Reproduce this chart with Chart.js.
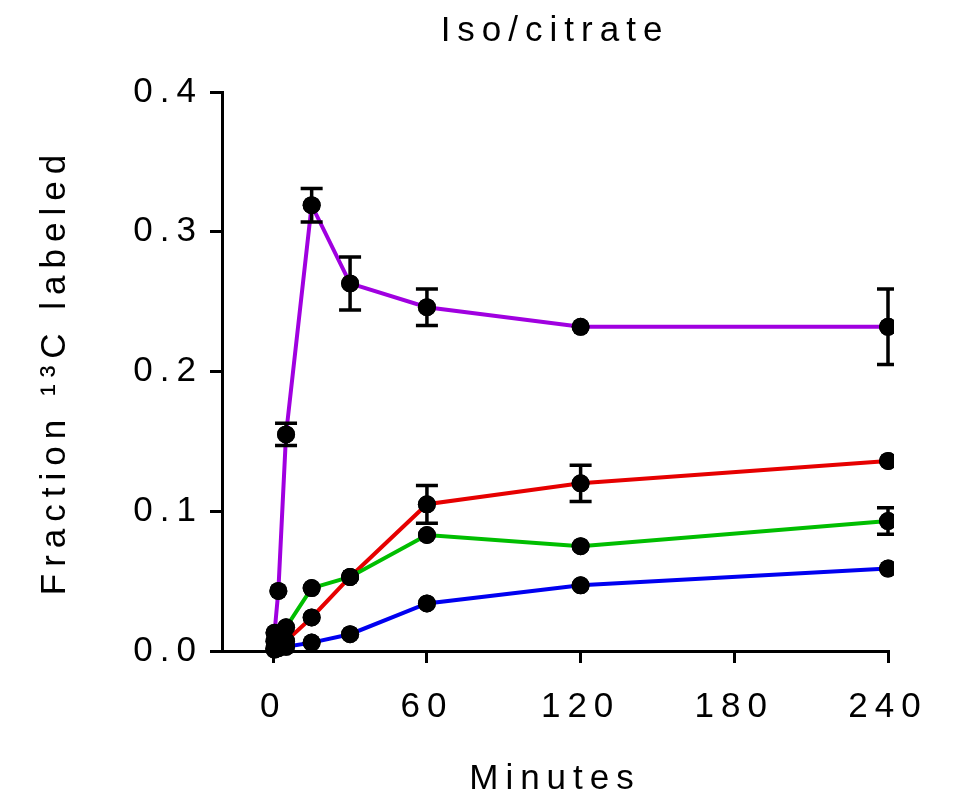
<!DOCTYPE html>
<html>
<head>
<meta charset="utf-8">
<title>Iso/citrate</title>
<script src="https://cdn.jsdelivr.net/npm/chart.js@4.4.1/dist/chart.umd.min.js"></script>
<style>
    body { margin: 0; background: #fff; }
    #wrap { width: 955px; height: 803px; }
</style>
</head>
<body>
<div id="wrap"><canvas id="isoChart" width="955" height="803"></canvas></div>
<script>
// sampling times (minutes)
const minutes = [0.5, 2, 5, 15, 30, 60, 120, 240];

// fraction 13C labeled, one array per trace
const purpleValues = [0.013, 0.043, 0.155, 0.319, 0.263, 0.246, 0.232, 0.232];
const greenValues = [0.007, 0.011, 0.017, 0.045, 0.053, 0.083, 0.075, 0.093];
const redValues = [0.002, 0.004, 0.007, 0.024, 0.053, 0.105, 0.120, 0.136];
const blueValues = [0.001, 0.002, 0.003, 0.006, 0.012, 0.034, 0.047, 0.059];

// error bar half heights, 0 where the bar hides behind the dot
const purpleErrors = [0, 0, 0.008, 0.012, 0.019, 0.013, 0, 0.027];
const greenErrors = [0, 0, 0, 0, 0, 0, 0, 0.0095];
const redErrors = [0, 0, 0, 0, 0, 0.0135, 0.013, 0];
const blueErrors = [0, 0, 0, 0, 0, 0, 0, 0];

const xTickValues = [0, 60, 120, 180, 240];
const yTickValues = [0, 0.1, 0.2, 0.3, 0.4];

const family = "'Liberation Sans', Arial, sans-serif";
const textFont = { family: family, size: 35, weight: 'normal', lineHeight: 1.2 };
const clipRight = 6;   // dots at 240 are cut a little past the plot edge
const capHalf = 11;

function points(values) {
    return values.map((v, i) => ({ x: minutes[i], y: v }));
}

function series(values, errors, color) {
    return {
        data: points(values),
        errors: errors,
        borderColor: color,
        backgroundColor: color,
        borderWidth: 4,
        tension: 0,
        pointRadius: 9,
        pointBorderWidth: 0,
        pointBackgroundColor: '#000',
        clip: { left: false, top: false, right: clipRight, bottom: false }
    };
}

// wide letter spacing like the original figure
const spacing = {
    id: 'spacing',
    beforeDraw(chart) {
        chart.ctx.letterSpacing = '7px';
    }
};

// error bars, then dots again so they sit on top of every line
const errorBars = {
    id: 'errorBars',
    afterDatasetsDraw(chart) {
        const ctx = chart.ctx;
        const area = chart.chartArea;
        const xs = chart.scales.x;
        const ys = chart.scales.y;
        ctx.save();
        ctx.beginPath();
        ctx.rect(0, 0, area.right + clipRight, chart.height);
        ctx.clip();
        ctx.strokeStyle = '#000';
        ctx.lineWidth = 3.5;
        chart.data.datasets.forEach(ds => {
            ds.errors.forEach((err, j) => {
                if (!err) return;
                const px = xs.getPixelForValue(ds.data[j].x);
                const top = ys.getPixelForValue(ds.data[j].y + err);
                const bot = ys.getPixelForValue(ds.data[j].y - err);
                ctx.beginPath();
                ctx.moveTo(px, top);
                ctx.lineTo(px, bot);
                ctx.moveTo(px - capHalf, top);
                ctx.lineTo(px + capHalf, top);
                ctx.moveTo(px - capHalf, bot);
                ctx.lineTo(px + capHalf, bot);
                ctx.stroke();
            });
        });
        chart.data.datasets.forEach((ds, i) => {
            chart.getDatasetMeta(i).data.forEach(pt => pt.draw(ctx));
        });
        ctx.restore();
    }
};

const ctx = document.getElementById('isoChart').getContext('2d');
new Chart(ctx, {
    type: 'line',
    data: {
        datasets: [
            series(purpleValues, purpleErrors, '#A000E0'),
            series(greenValues, greenErrors, '#00BE00'),
            series(redValues, redErrors, '#E60000'),
            series(blueValues, blueErrors, '#0000F0')
        ]
    },
    plugins: [spacing, errorBars],
    options: {
        responsive: false,
        animation: false,
        layout: { padding: { left: 0, right: 67, top: 0, bottom: 0 } },
        plugins: {
            legend: { display: false },
            tooltip: { enabled: false },
            title: {
                display: true,
                text: 'Iso/citrate',
                fullSize: false,
                color: '#000',
                font: textFont,
                padding: { top: 10, bottom: 40 }
            }
        },
        scales: {
            x: {
                type: 'linear',
                min: -20,
                max: 240,
                afterBuildTicks: s => { s.ticks = xTickValues.map(v => ({ value: v })); },
                afterFit: s => { s.height = 152; },
                grid: { drawOnChartArea: false, color: '#000', lineWidth: 3, tickLength: 12 },
                border: { color: '#000', width: 3 },
                ticks: { color: '#000', padding: 23, maxRotation: 0, font: textFont },
                title: {
                    display: true,
                    text: 'Minutes',
                    color: '#000',
                    font: textFont,
                    padding: { top: 0, bottom: 3 }
                }
            },
            y: {
                min: 0,
                max: 0.4,
                afterBuildTicks: s => { s.ticks = yTickValues.map(v => ({ value: v })); },
                afterFit: s => { s.width = 222; },
                grid: { drawOnChartArea: false, color: '#000', lineWidth: 3, tickLength: 12 },
                border: { color: '#000', width: 3 },
                ticks: {
                    color: '#000',
                    padding: 7,
                    font: textFont,
                    callback: v => v.toFixed(1)
                },
                title: {
                    display: true,
                    text: 'Fraction ¹³C labeled',
                    color: '#000',
                    font: textFont,
                    padding: { top: 34, bottom: 0 }
                }
            }
        }
    }
});
</script>
</body>
</html>
